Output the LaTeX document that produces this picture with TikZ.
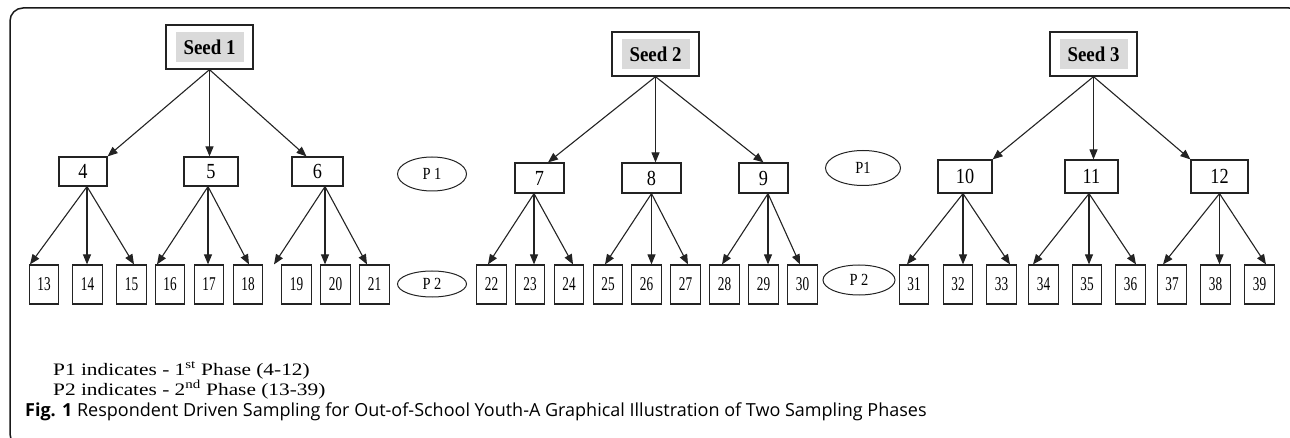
\documentclass[tikz,border=0pt]{standalone}
\usepackage{fontspec}
\setmainfont{Liberation Serif}
\newfontfamily\capfont{Open Sans}
\newfontfamily\seedfont[FakeStretch=0.9]{Liberation Serif}
\newfontfamily\narrowA[FakeStretch=0.85]{Liberation Serif}
\newfontfamily\narrowB[FakeStretch=0.68]{Liberation Serif}
\newfontfamily\legfont[FakeStretch=1.22]{Liberation Serif}
\usetikzlibrary{arrows.meta,shapes.geometric}
\definecolor{linec}{RGB}{35,35,35}
\definecolor{framec}{RGB}{25,25,25}
\definecolor{seedgray}{RGB}{218,218,218}
\tikzset{
  seedbox/.style={draw=linec, line width=1.3pt, minimum width=87pt, minimum height=44pt, inner sep=0pt},
  seedfill/.style={fill=seedgray, minimum width=68pt, minimum height=30pt, inner sep=0pt, font=\seedfont\bfseries\fontsize{21}{21}\selectfont},
  lvone/.style={draw=linec, line width=1.2pt, inner sep=0pt, minimum height=29pt, font=\narrowA\fontsize{21.5}{21.5}\selectfont},
  lvtwo/.style={draw=linec, line width=1.2pt, inner sep=0pt, minimum width=29.5pt, minimum height=39pt, font=\narrowB\fontsize{19.5}{19.5}\selectfont},
  phase/.style={ellipse, draw=linec, line width=1pt, inner sep=0pt, font=\narrowA\fontsize{17}{17}\selectfont},
  arr/.style={draw=linec, line width=1.1pt, -{Triangle[length=10pt,width=8pt]}},
  legend/.style={inner sep=0pt, font=\legfont\fontsize{17.5}{17.5}\selectfont},
}
\begin{document}
\begin{tikzpicture}[x=1pt,y=-1pt]
\useasboundingbox (0,0) rectangle (1290,438);
\begin{scope}
\clip (0,0) rectangle (1290,438);
\draw[framec, line width=1.5pt, rounded corners=13pt] (10,8) rectangle (1302,447);
\end{scope}
% seeds
\node[seedbox] (s1) at (209.5,47) {};
\node[seedfill] (s1t) at (s1) {Seed 1};
\node[seedbox] (s2) at (655.5,54) {};
\node[seedfill] (s2t) at (s2) {Seed 2};
\node[seedbox] (s3) at (1093.5,54) {};
\node[seedfill] (s3t) at (s3) {Seed 3};
% first phase
\node[lvone, minimum width=48pt] (b4) at (83,171.5) {4};
\node[lvone, minimum width=54pt] (b5) at (211,171.5) {5};
\node[lvone, minimum width=51pt] (b6) at (317.5,171.5) {6};
\node[lvone, minimum width=49pt, minimum height=30pt] (b7) at (539.5,178) {7};
\node[lvone, minimum width=59pt, minimum height=30pt] (b8) at (651.5,178) {8};
\node[lvone, minimum width=49pt, minimum height=30pt] (b9) at (763.5,178) {9};
\node[lvone, minimum width=54pt, minimum height=33pt] (b10) at (965,176.5) {10};
\node[lvone, minimum width=53pt, minimum height=33pt] (b11) at (1091.5,176.5) {11};
\node[lvone, minimum width=57pt, minimum height=33pt] (b12) at (1219.5,176.5) {12};
% second phase
\foreach \n/\x in {13/44,14/87.5,15/131.5,16/170,17/209,18/248,19/296.5,20/335.5,21/374.5,
  22/491.5,23/530,24/569,25/608,26/646.5,27/685.5,28/724.5,29/763.5,30/802.5,
  31/914,32/958,33/1001.5,34/1043.5,35/1087,36/1130.5,37/1172,38/1215.5,39/1259.5}
  \node[lvtwo] (b\n) at (\x,284.5) {\n};
% phase ellipses
\node[phase, minimum width=69pt, minimum height=34pt] (p1a) at (432,174) {P 1};
\node[phase, minimum width=69pt, minimum height=26pt] (p2a) at (432,284) {P 2};
\node[phase, minimum width=75pt, minimum height=35pt] (p1b) at (863,168) {P1};
\node[phase, minimum width=72pt, minimum height=30pt] (p2b) at (859,280) {P 2};
% seed arrows
\draw[arr] (s1.south) -- (b4.north east);
\draw[arr] (s1.south) -- (s1.south |- b5.north);
\draw[arr] (s1.south) -- ([xshift=-11pt]b6.north);
\draw[arr] (s2.south) -- ([xshift=8.5pt]b7.north);
\draw[arr] (s2.south) -- (s2.south |- b8.north);
\draw[arr] (s2.south) -- (b9.north);
\draw[arr] (s3.south) -- (b10.north east);
\draw[arr] (s3.south) -- (s3.south |- b11.north);
\draw[arr] (s3.south) -- (b12.north west);
% second phase arrows
\foreach \p/\dx/\l/\dl/\m/\r/\dr in {4/4/13/-14/14/15/2.5, 5/-3/16/-13/17/18/1, 6/7.5/19/-22.5/20/21/-7.5,
  7/-5.5/22/-3.5/23/24/4, 8/0/25/-3/26/27/2.5, 9/4.5/28/-2.5/29/30/-2.5,
  10/-2/31/-7/32/33/8.5, 11/-2.5/34/-10.5/35/36/5.5, 12/0/37/-9/38/39/6.5}{
  \coordinate (o\p) at ([xshift=\dx pt]b\p.south);
  \draw[arr] (o\p) -- ([xshift=\dl pt]b\l.north);
  \draw[arr] (o\p) -- (o\p |- b\m.north);
  \draw[arr] (o\p) -- ([xshift=\dr pt]b\r.north);
}
% legend and caption
\node[legend, anchor=base west] (l1) at (53,375) {P1 indicates - 1\textsuperscript{st} Phase (4-12)};
\node[legend, anchor=base west] (l2) at (53,395) {P2 indicates - 2\textsuperscript{nd} Phase (13-39)};
\node[anchor=base west, inner sep=0pt, font=\capfont\fontsize{18}{18}\selectfont] (cap) at (25,416)
  {\textbf{Fig. 1} Respondent Driven Sampling for Out-of-School Youth-A Graphical Illustration of Two Sampling Phases};
\end{tikzpicture}
\end{document}
